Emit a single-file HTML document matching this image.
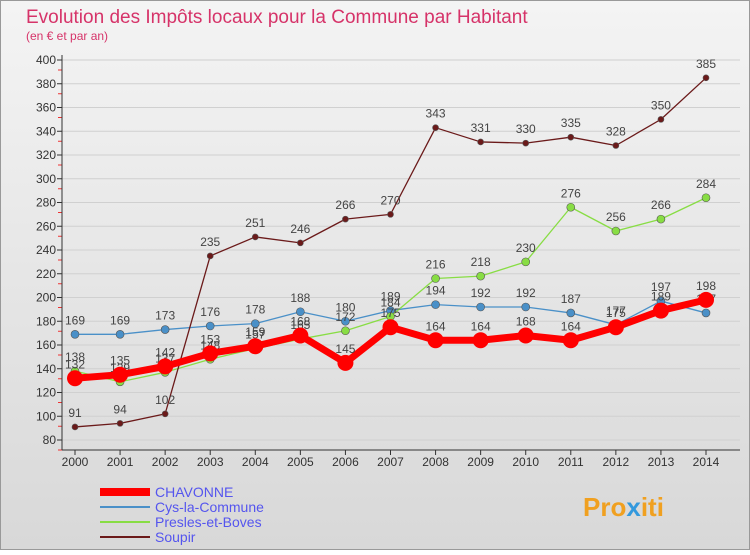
<!DOCTYPE html>
<html><head><meta charset="utf-8"><style>
body{margin:0;width:750px;height:550px;overflow:hidden;font-family:"Liberation Sans",sans-serif}
</style></head><body>
<svg id="c" width="750" height="550" xmlns="http://www.w3.org/2000/svg">
<defs><linearGradient id="bg" x1="0" y1="0" x2="0" y2="1"><stop offset="0" stop-color="#f4f4f4"/><stop offset="1" stop-color="#d8d8d8"/></linearGradient></defs>
<rect x="0.5" y="0.5" width="749" height="549" fill="url(#bg)" stroke="#999"/>
<text x="26" y="23" font-size="19" fill="#d63369">Evolution des Impôts locaux pour la Commune par Habitant</text>
<text x="26" y="40" font-size="12" fill="#d63369">(en € et par an)</text>
<g id="grid"></g><g id="axes"></g><g id="series"></g><g id="legend"></g>
<text x="583" y="516" font-size="26" font-weight="bold" fill="#f0a020">Pro<tspan fill="#3399dd">x</tspan>iti</text>
</svg>
<script>
const years=[2000,2001,2002,2003,2004,2005,2006,2007,2008,2009,2010,2011,2012,2013,2014];
const yTicks=[80,100,120,140,160,180,200,220,240,260,280,300,320,340,360,380,400];
const chavonne=[132,135,142,153,159,168,145,175,164,164,168,164,175,189,198];
const cys=[169,169,173,176,178,188,180,189,194,192,192,187,177,197,187];
const presles=[138,129,137,148,157,165,172,184,216,218,230,276,256,266,284];
const soupir=[91,94,102,235,251,246,266,270,343,331,330,335,328,350,385];
const NS="http://www.w3.org/2000/svg";
const X=i=>75+i*(706-75)/(years.length-1);
const Y=v=>440-(v-80)*380/320;
function mk(t,a,p){const e=document.createElementNS(NS,t);for(const k in a)e.setAttribute(k,a[k]);p.appendChild(e);return e;}
const grid=document.getElementById('grid'),axes=document.getElementById('axes'),ser=document.getElementById('series'),leg=document.getElementById('legend');
yTicks.forEach(v=>{
 const l=mk('line',{x1:60,x2:740,y1:Y(v),y2:Y(v),stroke:'#d0d0d0','stroke-width':1},grid);
 
 
 const t=mk('text',{x:56,y:Y(v)+4,'font-size':12,'text-anchor':'end',fill:'#333'},axes);t.textContent=v;
 
 
 mk('line',{x1:57,x2:62,y1:Y(v),y2:Y(v),stroke:'#333'},axes);
 mk('line',{x1:58,x2:62,y1:Y(v)+10,y2:Y(v)+10,stroke:'#e33'},axes);
});
mk('line',{x1:62,x2:62,y1:55,y2:450,stroke:'#333'},axes);
mk('line',{x1:62,x2:740,y1:450,y2:450,stroke:'#333'},axes);
years.forEach((y,i)=>{
 mk('line',{x1:X(i),x2:X(i),y1:450,y2:455,stroke:'#333'},axes);
 const t=mk('text',{x:X(i),y:466,'font-size':12,'text-anchor':'middle',fill:'#333'},axes);t.textContent=y;
 
 
});
const S=[{d:cys,c:'#4a90c8',w:1.3,r:4,n:'cys'},{d:presles,c:'#88dd44',w:1.3,r:4,n:'presles'},{d:soupir,c:'#6b1a1a',w:1.3,r:3,n:'soupir'},{d:chavonne,c:'#ff0000',w:7,r:8,n:'chavonne'}];
S.forEach(s=>{
 const p=mk('polyline',{points:s.d.map((v,i)=>X(i)+','+Y(v)).join(' '),fill:'none',stroke:s.c,'stroke-width':s.w,'stroke-linejoin':'round'},ser);
 
 
 s.d.forEach((v,i)=>{
  const c=mk('circle',{cx:X(i),cy:Y(v),r:s.r,fill:s.c,stroke:s.n=='chavonne'?'#ff0000':'#555','stroke-width':s.n=='chavonne'?0:0.6},ser);
  
  
  const t=mk('text',{x:X(i),y:Y(v)-10,'font-size':12,'text-anchor':'middle',fill:'#444'},ser);t.textContent=v;
  
  
 });
});
const L=[['CHAVONNE','#ff0000',8],['Cys-la-Commune','#4a90c8',2],['Presles-et-Boves','#88dd44',2],['Soupir','#6b1a1a',2]];
L.forEach((l,i)=>{
 const y=492+i*15;
 mk('line',{x1:100,x2:150,y1:y,y2:y,stroke:l[1],'stroke-width':l[2]},leg);
 const t=mk('text',{x:155,y:y+5,'font-size':14,fill:'#5555ee'},leg);t.textContent=l[0];
 
 
});
</script>
</body></html>
